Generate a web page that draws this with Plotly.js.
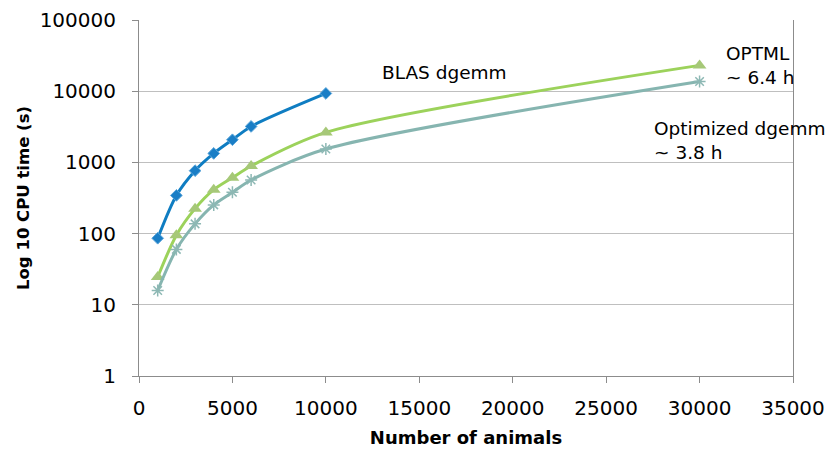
<!DOCTYPE html>
<html>
<head>
<meta charset="utf-8">
<script src="https://cdn.plot.ly/plotly-3.0.1.min.js"></script>
<style>html,body{margin:0;padding:0;background:#fff;}#chart{width:830px;height:450px;}</style>
</head>
<body>
<div id="chart"></div>
<script>
var animals = [1000, 2000, 3000, 4000, 5000, 6000, 10000, 30000];
var blasAnimals = [1000, 2000, 3000, 4000, 5000, 6000, 10000];
var blasTime = [86, 344, 765, 1337, 2080, 3200, 9300];
var optmlTime = [24.5, 95, 224, 414, 610, 890, 2640, 23040];
var optDgemmTime = [15.9, 60, 137, 253, 380, 566, 1540, 13680];
var yTicks = [1, 10, 100, 1000, 10000, 100000];
var xTicks = [0, 5000, 10000, 15000, 20000, 25000, 30000, 35000];

var font = "DejaVu Sans, Verdana, sans-serif";

var traces = [
  {x: blasAnimals, y: blasTime, mode: 'lines+markers', name: 'BLAS dgemm',
   line: {color: '#0F7DC2', width: 3, shape: 'spline', smoothing: 0.8},
   marker: {symbol: 'diamond', size: 9, color: '#1A7EC6', line: {color: '#5AA5DA', width: 1}}},
  {x: animals, y: optmlTime, mode: 'lines+markers', name: 'OPTML',
   line: {color: '#9CD25B', width: 3, shape: 'spline', smoothing: 0.8},
   marker: {symbol: 'triangle-up', size: 12, color: '#A6C878'}},
  {x: animals, y: optDgemmTime, mode: 'lines+markers', name: 'Optimized dgemm',
   line: {color: '#86B5B0', width: 3, shape: 'spline', smoothing: 0.8},
   marker: {symbol: 'asterisk-open', size: 10, color: '#8DB8B4', line: {color: '#8DB8B4', width: 1.5}}}
];

var layout = {
  width: 830, height: 450,
  margin: {l: 139, r: 37, t: 20, b: 74},
  paper_bgcolor: '#fff', plot_bgcolor: '#fff',
  showlegend: false,
  font: {family: font, color: '#000'},
  xaxis: {
    range: [0, 35000], tickvals: xTicks, ticktext: xTicks.map(String),
    showgrid: false, zeroline: false,
    showline: true, linecolor: '#8C8C8C', linewidth: 1,
    ticks: 'outside', ticklen: 6, tickcolor: '#8C8C8C',
    ticklabelstandoff: 8,
    tickfont: {size: 20, family: font},
    title: {text: '<b>Number of animals</b>', font: {size: 18, family: font}, standoff: 12}
  },
  yaxis: {
    type: 'log', range: [0, 5], tickvals: yTicks, ticktext: yTicks.map(String),
    showgrid: true, gridcolor: '#BFBFBF', gridwidth: 1.3,
    zeroline: false,
    showline: true, linecolor: '#8C8C8C', linewidth: 1, mirror: true,
    ticks: 'outside', ticklen: 6, tickcolor: '#8C8C8C',
    ticklabelstandoff: 12,
    tickfont: {size: 20, family: font},
    title: {text: '<b>Log 10 CPU time (s)</b>', font: {size: 16.5, family: font}, standoff: 5}
  },
  annotations: [
    {x: 12900, y: 4.258, xref: 'x', yref: 'y', text: 'BLAS dgemm', showarrow: false,
     xanchor: 'left', yanchor: 'middle', font: {size: 18.5, family: font}},
    {x: 31300, y: 4.356, xref: 'x', yref: 'y', text: 'OPTML<br>~ 6.4 h', showarrow: false,
     xanchor: 'left', yanchor: 'middle', align: 'left', font: {size: 18.5, family: font}},
    {x: 27450, y: 3.31, xref: 'x', yref: 'y', text: 'Optimized dgemm<br>~ 3.8 h', showarrow: false,
     xanchor: 'left', yanchor: 'middle', align: 'left', font: {size: 18.5, family: font}}
  ]
};

Plotly.newPlot('chart', traces, layout, {displayModeBar: false, staticPlot: true});
</script>
</body>
</html>
